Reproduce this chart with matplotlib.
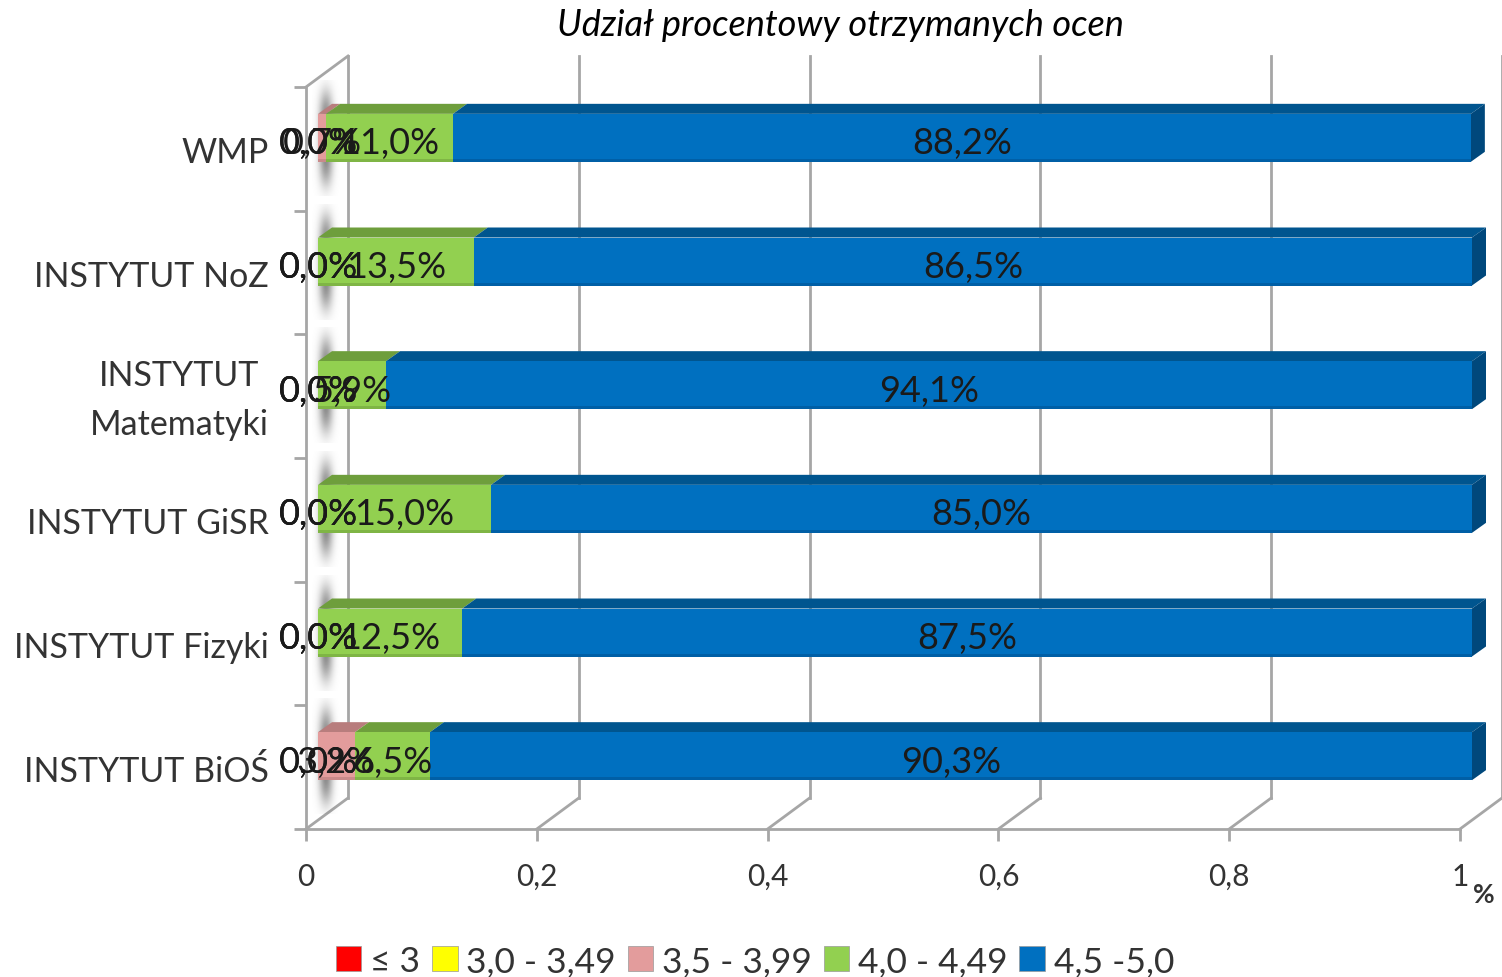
import numpy as np
from matplotlib import pyplot as plt
from matplotlib.patches import Polygon, Patch
from matplotlib.transforms import Affine2D

plt.rcParams['font.family'] = ['Lato', 'DejaVu Sans']

W, H = 1502, 978

# data, bottom to top as on the y axis
categories = ['INSTYTUT BiOŚ', 'INSTYTUT Fizyki', 'INSTYTUT GiSR',
              'INSTYTUT\nMatematyki', 'INSTYTUT NoZ', 'WMP']
series_names = ['≤ 3', '3,0 - 3,49', '3,5 - 3,99', '4,0 - 4,49', '4,5 -5,0']
below_3 = [0.0, 0.0, 0.0, 0.0, 0.0, 0.0]
from_30 = [0.0, 0.0, 0.0, 0.0, 0.0, 0.0]
from_35 = [0.032, 0.0, 0.0, 0.0, 0.0, 0.007]
from_40 = [0.065, 0.125, 0.15, 0.059, 0.135, 0.11]
from_45 = [0.903, 0.875, 0.85, 0.941, 0.865, 0.882]
xticks = [0, 0.2, 0.4, 0.6, 0.8, 1]
xtick_labels = ['0', '0,2', '0,4', '0,6', '0,8', '1']

series = [below_3, from_30, from_35, from_40, from_45]
front_colors = ['#FF0000', '#FFFF00', '#E39C9C', '#92D050', '#0070C0']
top_colors = ['#C00000', '#C8C800', '#B87D7D', '#6E9E3C', '#00558F']
low_colors = ['#D00000', '#D8D800', '#C98A8A', '#7FB545', '#005FA6']
GRID = '#A6A6A6'

fig = plt.figure(figsize=(W / 100, H / 100), dpi=100)
ax = fig.add_axes([306 / W, (H - 830) / H, (1460 - 306) / W, (830 - 88) / H])
ax.set_xlim(0, 1)
ax.set_ylim(0, 6)
ax.patch.set_visible(False)

# pixel sizes turned into data units
px_x = 1 / 1154
px_y = 6 / 742
wall_dx, wall_dy = 42 * px_x, 31 * px_y
bar_dx, bar_dy = 14 * px_x, 10 * px_y
bar_h = 48 * px_y

# walls and floor
for t in xticks:
    ax.plot([t, t + wall_dx], [0, wall_dy], color=GRID, lw=2, clip_on=False, zorder=1)
    ax.plot([t + wall_dx] * 2, [wall_dy, 6 + wall_dy], color=GRID, lw=2, clip_on=False, zorder=1)
ax.plot([0, wall_dx], [6, 6 + wall_dy], color=GRID, lw=2, clip_on=False, zorder=1)

# soft shadow on the side wall
yy, xx = np.mgrid[-1:1:120j, -1:1:40j]
alpha = np.exp(-(xx / 0.5) ** 2) * np.exp(-(yy / 0.8) ** 4) * 0.8
shadow = np.zeros(alpha.shape + (4,))
shadow[..., :3] = 0.4
shadow[..., 3] = alpha

shift = Affine2D().translate(12, 11)
to_bar = ax.transData + shift

for i in range(len(categories)):
    mid = i + 0.5 + 11 * px_y
    im = ax.imshow(shadow, extent=(6 * px_x, 34 * px_x, mid - 58 * px_y, mid + 58 * px_y),
                   aspect='auto', zorder=1.5, interpolation='bilinear')
    im.set_clip_on(False)
ax.set_xlim(0, 1)
ax.set_ylim(0, 6)

lefts = np.zeros(len(categories))
for vals, front, top, low in zip(series, front_colors, top_colors, low_colors):
    vals = np.array(vals)
    for i, (l, v) in enumerate(zip(lefts, vals)):
        if v == 0:
            continue
        y0 = i + 0.5 - bar_h / 2
        y1 = y0 + bar_h
        ax.barh(i + 0.5, v, left=l, height=bar_h, color=front, transform=to_bar, zorder=3, clip_on=False)
        ax.barh(y0 + 1.5 * px_y, v, left=l, height=3 * px_y, color=low, transform=to_bar, zorder=3.1, clip_on=False)
        ax.add_patch(Polygon([(l, y1), (l + v, y1), (l + v + bar_dx, y1 + bar_dy), (l + bar_dx, y1 + bar_dy)],
                             closed=True, facecolor=top, edgecolor='none',
                             transform=to_bar, zorder=2.9, clip_on=False))
        if l + v > 0.99:
            r = l + v
            ax.add_patch(Polygon([(r, y0), (r + bar_dx, y0 + bar_dy), (r + bar_dx, y1 + bar_dy), (r, y1)],
                                 closed=True, facecolor='#00487C', edgecolor='none',
                                 transform=to_bar, zorder=2.9, clip_on=False))
    lefts = lefts + vals

# value labels, zero ones included since they pile up at the axis
lefts = np.zeros(len(categories))
for vals in series:
    for i, (l, v) in enumerate(zip(lefts, vals)):
        label = f'{v * 100:.1f}%'.replace('.', ',')
        ax.text(l + v / 2, i + 0.5 - 5 * px_y, label, ha='center', va='center',
                fontsize=26, color='#1A1A1A', transform=to_bar, zorder=5, clip_on=False)
    lefts = lefts + np.array(vals)

# axes
for s in ['top', 'right']:
    ax.spines[s].set_visible(False)
for s in ['left', 'bottom']:
    ax.spines[s].set_color(GRID)
    ax.spines[s].set_linewidth(2)
ax.set_xticks(xticks)
ax.set_xticklabels(xtick_labels, fontsize=21.5, color='#333333')
ax.set_yticks(range(7))
ax.set_yticklabels([])
ax.set_yticks(np.arange(6) + 0.5, minor=True)
ylabels = ax.set_yticklabels(categories, minor=True, fontsize=24.5, color='#333333',
                             multialignment='center', linespacing=1.65)
ax.tick_params(axis='x', which='major', length=8.5, width=2, color=GRID, pad=15)
ax.tick_params(axis='y', which='major', length=8.5, width=2, color=GRID)
ax.tick_params(axis='y', which='minor', length=0, pad=27)
# two-line label sits a bit high in the original, has to come after tick_params
ylabels[3].set_transform(ylabels[3].get_transform() + Affine2D().translate(0, 8))

fig.text(840 / W, 1 - 25 / H, 'Udział procentowy otrzymanych ocen', ha='center', va='center',
         fontsize=26, style='italic', color='black')
fig.text(1484 / W, 1 - 895 / H, '%', ha='center', va='center', fontsize=19, weight='bold', color='#333333')

handles = [Patch(facecolor=c, edgecolor='#999999', linewidth=0.5) for c in front_colors]
fig.legend(handles, series_names, loc='center', bbox_to_anchor=(755 / W, 1 - 962 / H), ncol=5,
           frameon=False, fontsize=25.5, handlelength=0.72, handleheight=0.72,
           handletextpad=0.25, columnspacing=0.33, labelcolor='#333333')

fig.savefig('out.png', dpi=100)
